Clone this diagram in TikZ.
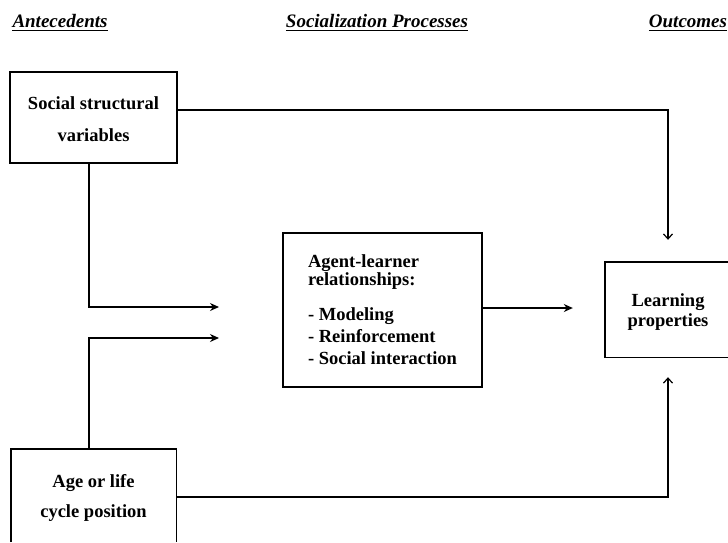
\documentclass[tikz,border=0pt]{standalone}
\usepackage{fontspec}
\setmainfont{Liberation Serif}
\usetikzlibrary{arrows.meta,calc}
\begin{document}
\begin{tikzpicture}[x=1pt,y=-1pt,
  txt/.style={font=\fontsize{18.5}{20}\selectfont\bfseries, align=center, inner sep=0pt},
  hdr/.style={font=\fontsize{19}{20}\selectfont\bfseries\itshape, inner sep=0pt, anchor=base},
  boxed/.style={draw, line width=1.4pt, inner sep=0pt},
  frame/.style={line width=1.4pt},
  conn/.style={line width=1.3pt},
  solidtip/.style={conn, -{Stealth[length=9pt,width=8pt]}},
  opentip/.style={conn, -{Straight Barb[length=5pt,width=9pt,line width=1.2pt]}}
]
\useasboundingbox (0,0) rectangle (728,542);
\clip (0,0) rectangle (728,542);

% headers
\node[hdr] (hA) at (60,27) {Antecedents};
\node[hdr] (hS) at (377,27) {Socialization Processes};
\node[hdr] (hO) at (688,27) {Outcomes};
\foreach \h in {hA,hS,hO}
  \draw[line width=1.5pt] ([yshift=-3.5pt]\h.base west) -- ([yshift=-3.5pt]\h.base east);

% boxes
\node[boxed, txt, minimum width=167pt, minimum height=91pt] (ssv) at (93.5,117.5)
  {\rule{0pt}{17pt}Social structural\\[12pt]variables};

\node[txt, minimum width=165pt, minimum height=93pt] (age) at (93.5,495.5)
  {\rule{0pt}{17pt}Age or life\\[10pt]cycle position};
\draw[frame] (age.south west) -- (age.north west) -- (age.north east) -- (age.south east);

\node[boxed, font=\fontsize{18.5}{22}\selectfont\bfseries, align=left,
      inner sep=0pt, minimum width=199pt, minimum height=154pt] (agent) at (382.5,310)
  {Agent-learner\\[-4pt]relationships:\\[13pt]- Modeling\\- Reinforcement\\- Social interaction};

\node[txt, minimum width=126pt, minimum height=95pt] (learn) at (668,309.5)
  {\rule{0pt}{17pt}Learning\\properties};
\draw[frame] (learn.north east) -- (learn.north west) -- (learn.south west) -- (learn.south east);

% free ends of the arrows into the middle column
\coordinate (in1) at (219,307);
\coordinate (in2) at (219,338);

% connectors
\draw[opentip, shorten >=22pt] ([yshift=7.5pt]ssv.east) -| (learn.north);
\draw[solidtip] ([xshift=-4.5pt]ssv.south) |- (in1);
\draw[solidtip] ([xshift=-4.5pt]age.north) |- (in2);
\draw[solidtip, shorten >=32pt] ([yshift=2pt]agent.east) -- ([yshift=2pt]agent.east -| learn.west);
\draw[opentip, shorten >=20pt] ([yshift=-1.5pt]age.east) -| (learn.south);
\end{tikzpicture}
\end{document}
